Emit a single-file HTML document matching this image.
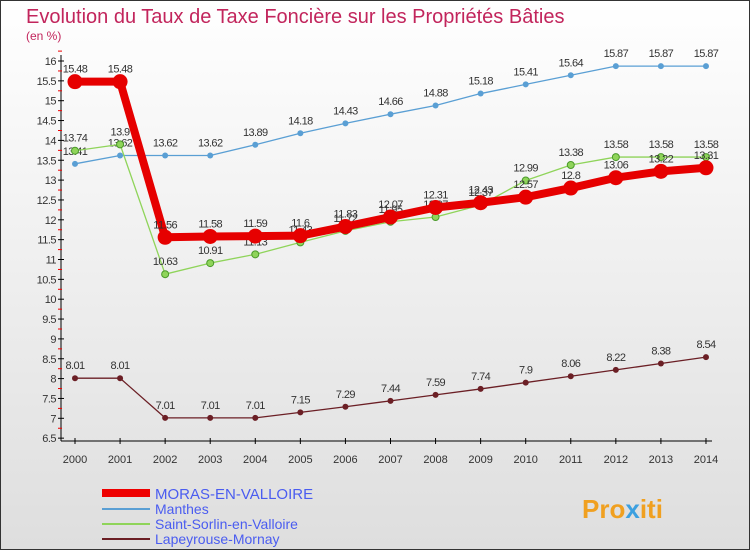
<!DOCTYPE html>
<html><head><meta charset="utf-8"><style>
body{margin:0;width:750px;height:550px;overflow:hidden;font-family:"Liberation Sans",sans-serif}
svg{display:block}
</style></head><body>
<svg id="c" width="750" height="550">
<defs><linearGradient id="bg" x1="0" y1="0" x2="0" y2="1"><stop offset="0" stop-color="#ffffff"/><stop offset="1" stop-color="#dedede"/></linearGradient></defs>
<rect x="0.5" y="0.5" width="749" height="549" fill="url(#bg)" stroke="#333"/>
<text x="26" y="23" font-size="20" fill="#c2255c">Evolution du Taux de Taxe Foncière sur les Propriétés Bâties</text>
<text x="26" y="40" font-size="12" fill="#c2255c">(en %)</text>
<g id="axes"></g><g id="series"></g>
<g>
<line x1="102" y1="493" x2="150" y2="493" stroke="#e00" stroke-width="8"/>
<text x="155" y="499" font-size="15" fill="#4a5cf0">MORAS-EN-VALLOIRE</text>
<line x1="102" y1="509" x2="150" y2="509" stroke="#5a9fd4" stroke-width="2"/>
<text x="155" y="514" font-size="14" fill="#4a5cf0">Manthes</text>
<line x1="102" y1="524" x2="150" y2="524" stroke="#8fd45a" stroke-width="2"/>
<text x="155" y="529" font-size="14" fill="#4a5cf0">Saint-Sorlin-en-Valloire</text>
<line x1="102" y1="539" x2="150" y2="539" stroke="#6b1f25" stroke-width="2"/>
<text x="155" y="544" font-size="14" fill="#4a5cf0">Lapeyrouse-Mornay</text>
</g>
<text x="582" y="518" font-size="26" font-weight="bold" fill="#f0a020">Pro<tspan fill="#3ca0e0">x</tspan>iti</text>
</svg>
<script>
const years=[2000,2001,2002,2003,2004,2005,2006,2007,2008,2009,2010,2011,2012,2013,2014];
const moras=[15.48,15.48,11.56,11.58,11.59,11.6,11.83,12.07,12.31,12.43,12.57,12.8,13.06,13.22,13.31];
const manthes=[13.41,13.62,13.62,13.62,13.89,14.18,14.43,14.66,14.88,15.18,15.41,15.64,15.87,15.87,15.87];
const sorlin=[13.74,13.9,10.63,10.91,11.13,11.43,11.72,11.95,12.07,12.37,12.99,13.38,13.58,13.58,13.58];
const lapeyrouse=[8.01,8.01,7.01,7.01,7.01,7.15,7.29,7.44,7.59,7.74,7.9,8.06,8.22,8.38,8.54];
const yTicks=[6.5,7,7.5,8,8.5,9,9.5,10,10.5,11,11.5,12,12.5,13,13.5,14,14.5,15,15.5,16];
const NS="http://www.w3.org/2000/svg";
const X=i=>75+i*45.07, Y=v=>61+(16-v)*39.7;
function mk(t,a,p){const e=document.createElementNS(NS,t);for(const k in a)e.setAttribute(k,a[k]);p.appendChild(e);return e;}
const ax=document.getElementById('axes');
let l=mk('line',{x1:61,y1:55,x2:61,y2:441,stroke:'#000'},ax);


l=mk('line',{x1:61,y1:441,x2:712,y2:441,stroke:'#000'},ax);


yTicks.forEach(v=>{const y=Y(v);
mk('line',{x1:58,y1:y,x2:64,y2:y,stroke:'#000'},ax);
mk('line',{x1:58,y1:y-9.9,x2:62,y2:y-9.9,stroke:'#e00'},ax);
const t=mk('text',{x:56,y:y+4,'font-size':11,'text-anchor':'end',fill:'#333','letter-spacing':'-0.5'},ax);t.textContent=v;

});
years.forEach((yr,i)=>{const x=X(i);
mk('line',{x1:x,y1:438,x2:x,y2:444,stroke:'#000'},ax);
const t=mk('text',{x:x,y:463,'font-size':11,'text-anchor':'middle',fill:'#333'},ax);t.textContent=yr;

});
const sg=document.getElementById('series');
function draw(d,name,col,w,r,stroke){const g=mk('g',{},sg);


mk('polyline',{points:d.map((v,i)=>X(i)+','+Y(v)).join(' '),fill:'none',stroke:col,'stroke-width':w,'stroke-linejoin':'round'},g);
d.forEach((v,i)=>{const c=mk('circle',{cx:X(i),cy:Y(v),r:r,fill:col,stroke:stroke||'none'},g);


const t=mk('text',{x:X(i),y:Y(v)-9,'font-size':11,'text-anchor':'middle',fill:'#333','letter-spacing':'-0.6'},g);t.textContent=v;

});}
draw(lapeyrouse,'lapeyrouse','#6b1f25',1.3,3);
draw(manthes,'manthes','#5a9fd4',1.3,3);
draw(sorlin,'saint-sorlin','#8fd45a',1.3,3.5,'#4a9a2a');
draw(moras,'moras','#e60000',8,7.5);
</script>
</body></html>
